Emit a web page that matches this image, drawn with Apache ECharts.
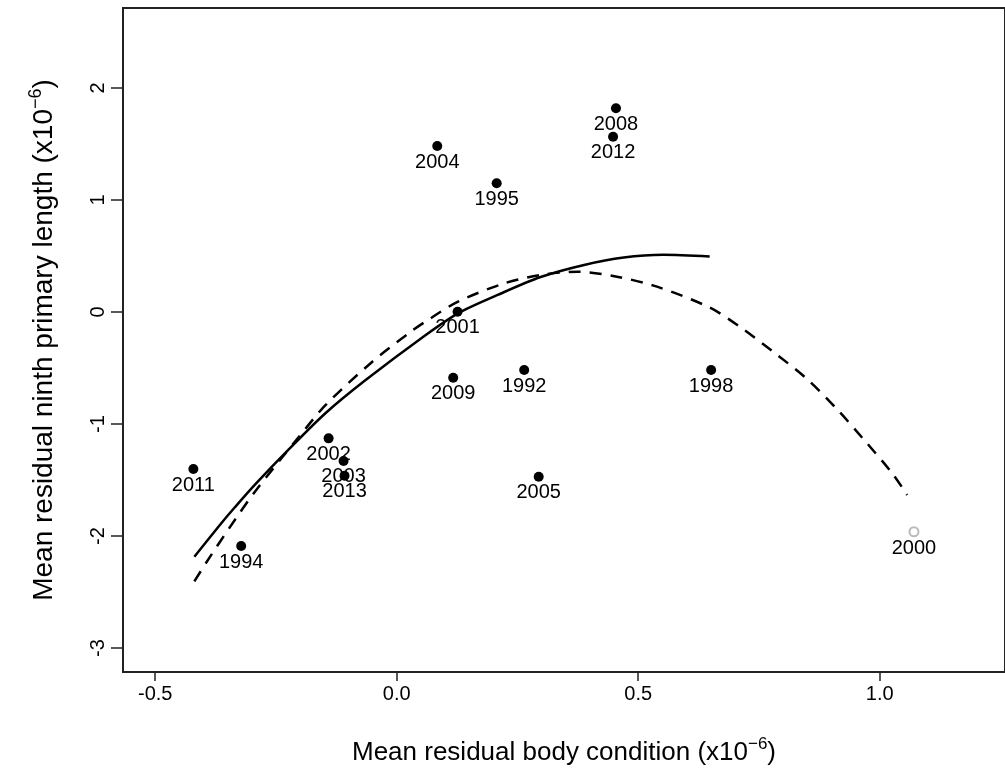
<!DOCTYPE html>
<html>
<head lang="en">
    <meta charset="UTF-8">
    <title></title>
    <style>
        html,body{margin:0;padding:0;background:#fff;}
    </style>
</head>
<body>
<div id="chart" style="width: 1005px;height: 771px;"></div>
<script src="https://cdn.jsdelivr.net/npm/echarts@6/dist/echarts.min.js"></script>
<script>
    // years and their mean residuals (x10^-6)
    var years    = ['2011','1994','2002','2003','2013','2004','1995','2001','2009','1992','2005','2008','2012','1998'];
    var bodyCond = [-0.421,-0.322,-0.141,-0.110,-0.108, 0.084, 0.207, 0.126, 0.117, 0.264, 0.294, 0.454, 0.448, 0.651];
    var primLen  = [-1.402,-2.089,-1.128,-1.330,-1.462, 1.482, 1.149, 0.003,-0.587,-0.518,-1.471, 1.819, 1.565,-0.518];
    // the outlying year (open grey symbol)
    var outYears = ['2000'];
    var outX     = [1.071];
    var outY     = [-1.962];

    // fitted curve without 2000 (solid)
    var solidX = [-0.419,-0.364,-0.336,-0.292,-0.223,-0.147,-0.065, 0.058, 0.127, 0.209, 0.298, 0.388, 0.470, 0.552, 0.648];
    var solidY = [-2.185,-1.890,-1.748,-1.535,-1.225,-0.902,-0.610,-0.212,-0.012, 0.152, 0.312, 0.420, 0.486, 0.510, 0.496];
    // fitted curve with 2000 (dashed)
    var dashX = [-0.419,-0.388,-0.346,-0.292,-0.202,-0.147,-0.051, 0.031, 0.058, 0.127, 0.223, 0.298, 0.374, 0.456, 0.539, 0.648, 0.710, 0.779, 0.848, 0.910, 0.971, 1.026, 1.057];
    var dashY = [-2.405,-2.195,-1.925,-1.595,-1.113,-0.830,-0.446,-0.170,-0.090, 0.092, 0.256, 0.330, 0.360, 0.315, 0.226, 0.040,-0.131,-0.354,-0.592,-0.860,-1.158,-1.440,-1.634];

    var xTicks = [-0.5, 0, 0.5, 1.0];
    var yTicks = [-3, -2, -1, 0, 1, 2];

    function zip(a, b, c){
        return a.map(function(v, i){
            return c ? [v, b[i], c[i]] : [v, b[i]];
        });
    }

    var font = 'Liberation Sans, Arial, sans-serif';
    var myChart = echarts.init(document.getElementById('chart'));
    var labelStyle = {
        show: true,
        position: 'bottom',
        distance: 1,
        fontFamily: font,
        fontSize: 20,
        color: '#000',
        formatter: function(p){ return p.value[2]; }
    };
    var option = {
        animation: false,
        backgroundColor: '#fff',
        grid: {
            left: 123, top: 8, right: -3, bottom: 99,
            show: true,
            borderColor: '#222',
            borderWidth: 2
        },
        xAxis: {
            type: 'value',
            min: -0.5667,
            max: 1.2595,
            splitLine: {show: false},
            axisLine: {show: true, onZero: false, lineStyle: {color: '#222', width: 2}},
            axisTick: {show: true, inside: false, length: 9, customValues: xTicks, lineStyle: {color: '#222', width: 1.5}},
            axisLabel: {
                customValues: xTicks,
                margin: 12,
                fontFamily: font,
                fontSize: 20,
                color: '#000',
                formatter: function(v){ return v.toFixed(1); }
            },
            name: '{t|Mean residual body condition (x10}{s|\u22126}{t|)}',
            nameLocation: 'middle',
            nameGap: 64,
            nameTextStyle: {
                rich: {
                    t: {fontFamily: font, fontSize: 26, color: '#000', lineHeight: 34},
                    s: {fontFamily: font, fontSize: 17, color: '#000', lineHeight: 17, verticalAlign: 'top'}
                }
            }
        },
        yAxis: {
            type: 'value',
            min: -3.214,
            max: 2.714,
            splitLine: {show: false},
            axisLine: {show: true, onZero: false, lineStyle: {color: '#222', width: 2}},
            axisTick: {show: true, inside: false, length: 12, customValues: yTicks, lineStyle: {color: '#222', width: 1.5}},
            axisLabel: {
                customValues: yTicks,
                rotate: 90,
                margin: 15,
                fontFamily: font,
                fontSize: 20,
                color: '#000',
                formatter: function(v){ return String(v); }
            },
            name: '{t|Mean residual ninth primary length (x10}{s|\u22126}{t|)}',
            nameLocation: 'middle',
            nameRotate: 90,
            nameGap: 62,
            nameTextStyle: {
                rich: {
                    t: {fontFamily: font, fontSize: 28, color: '#000', lineHeight: 34},
                    s: {fontFamily: font, fontSize: 18, color: '#000', lineHeight: 18, verticalAlign: 'top'}
                }
            }
        },
        series: [
            {
                name: 'solid fit',
                type: 'line',
                data: zip(solidX, solidY),
                showSymbol: false,
                smooth: 0.3,
                lineStyle: {color: '#000', width: 2.5},
                z: 2
            },
            {
                name: 'dashed fit',
                type: 'line',
                data: zip(dashX, dashY),
                showSymbol: false,
                smooth: 0.3,
                lineStyle: {color: '#000', width: 2.5, type: [12, 9]},
                z: 2
            },
            {
                name: 'years',
                type: 'scatter',
                data: zip(bodyCond, primLen, years),
                symbol: 'circle',
                symbolSize: 10,
                itemStyle: {color: '#000', opacity: 1},
                label: labelStyle,
                z: 3
            },
            {
                name: 'outlier',
                type: 'scatter',
                data: zip(outX, outY, outYears),
                symbol: 'emptyCircle',
                symbolSize: 9,
                itemStyle: {color: '#bbb', borderColor: '#bbb', borderWidth: 1.2, opacity: 1},
                label: labelStyle,
                z: 3
            }
        ]
    };
    myChart.setOption(option);
</script>
</body>
</html>
